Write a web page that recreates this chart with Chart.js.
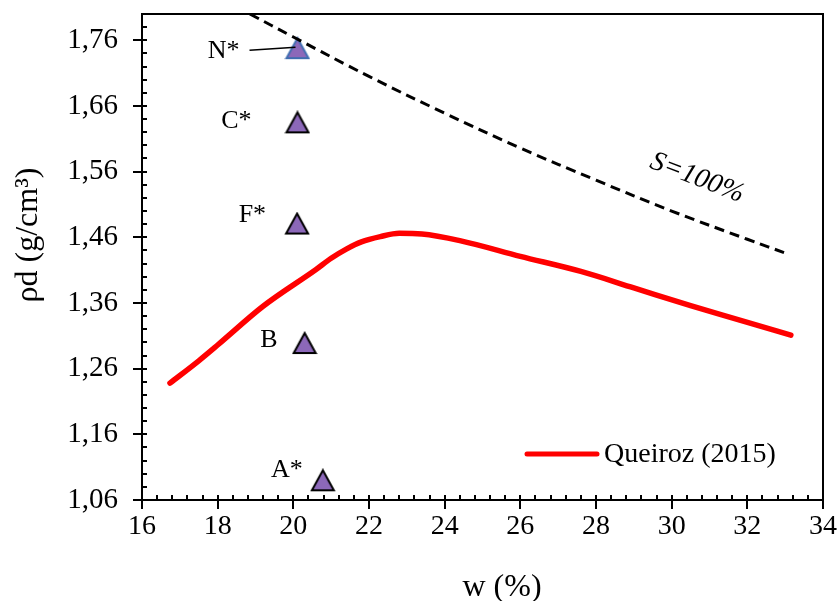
<!DOCTYPE html>
<html>
<head>
<meta charset="utf-8">
<script src="https://cdn.jsdelivr.net/npm/chart.js@4.4.1/dist/chart.umd.min.js"></script>
<style>
  html, body { margin: 0; padding: 0; background: #fff; }
  #wrap { width: 838px; height: 601px; }
</style>
</head>
<body>
<div id="wrap"><canvas id="chart" width="838" height="601"></canvas></div>
<script>
// Queiroz (2015) compaction curve
const queirozW = [16.74, 17.5, 18.0, 19.2, 20.6, 21.0, 21.4, 21.8, 22.3, 22.8, 23.4, 24.4, 26.0, 27.6, 29.0, 30.5, 31.8, 33.15];
const queirozRho = [1.238, 1.272, 1.296, 1.355, 1.411, 1.428, 1.442, 1.453, 1.461, 1.466, 1.465, 1.455, 1.431, 1.408, 1.383, 1.356, 1.334, 1.311];

// saturation curve S=100%
const satW = [18.85, 20, 22, 24, 26, 28, 30, 32, 33.1];
const satRho = [1.800, 1.765, 1.705, 1.649, 1.596, 1.547, 1.500, 1.457, 1.434];

// soil samples
const sampleNames = ['N*', 'C*', 'F*', 'B', 'A*'];
const sampleW = [20.11, 20.11, 20.10, 20.30, 20.78];
const sampleRho = [1.748, 1.635, 1.481, 1.299, 1.090];

// axes
const xTicks = [16, 18, 20, 22, 24, 26, 28, 30, 32, 34];
const yTicks = [1.06, 1.16, 1.26, 1.36, 1.46, 1.56, 1.66, 1.76];

const FONT = "'Liberation Serif', 'Times New Roman', serif";

function triangleMarker(stroke) {
    const c = document.createElement('canvas');
    c.width = 26; c.height = 24;
    const g = c.getContext('2d');
    g.beginPath();
    g.moveTo(13, 2);
    g.lineTo(24, 22);
    g.lineTo(2, 22);
    g.closePath();
    g.fillStyle = '#8c68b9';
    g.fill();
    g.lineWidth = 2;
    g.strokeStyle = stroke;
    g.stroke();
    return c;
}
const markerStyles = sampleNames.map((n, i) => triangleMarker(i === 0 ? '#3f6db0' : '#000000'));

// label offsets from the marker (px)
const labelOffsets = [[-58, 3], [-46, -1], [-31, -8], [-27, -3], [-20, -10]];

const decorations = {
    id: 'decorations',
    afterDatasetsDraw(chart) {
        const ctx = chart.ctx;
        const area = chart.chartArea;
        const xs = chart.scales.x, ys = chart.scales.y;
        ctx.save();

        // frame
        ctx.strokeStyle = '#000';
        ctx.lineWidth = 2;
        ctx.strokeRect(area.left, area.top, area.right - area.left, area.bottom - area.top);

        // y ticks: major cross, minor inside
        ctx.beginPath();
        for (let v = 1.06; v <= 1.801; v += 0.02) {
            const y = Math.round(ys.getPixelForValue(v));
            const major = yTicks.some(t => Math.abs(t - v) < 1e-6);
            ctx.moveTo(area.left - (major ? 9 : 0), y);
            ctx.lineTo(area.left + 5, y);
        }
        // x ticks
        for (let v = 16; v <= 34.001; v += 0.4) {
            const x = Math.round(xs.getPixelForValue(v));
            const major = xTicks.some(t => Math.abs(t - v) < 1e-6);
            ctx.moveTo(x, area.bottom - 5);
            ctx.lineTo(x, area.bottom + (major ? 9 : 0));
        }
        ctx.stroke();

        // sample labels
        const meta = chart.getDatasetMeta(2);
        ctx.fillStyle = '#000';
        ctx.font = '26px ' + FONT;
        ctx.textAlign = 'right';
        ctx.textBaseline = 'middle';
        meta.data.forEach((pt, i) => {
            ctx.fillText(sampleNames[i], pt.x + labelOffsets[i][0], pt.y + labelOffsets[i][1]);
        });
        // leader line for N*
        const n = meta.data[0];
        ctx.lineWidth = 1.5;
        ctx.beginPath();
        ctx.moveTo(n.x - 48, n.y + 2);
        ctx.lineTo(n.x - 2, n.y - 1);
        ctx.stroke();

        // S=100% label
        ctx.save();
        ctx.translate(697, 178);
        ctx.rotate(21 * Math.PI / 180);
        ctx.font = 'italic 28px ' + FONT;
        ctx.textAlign = 'center';
        ctx.fillText('S=100%', 0, 0);
        ctx.restore();

        // legend
        const ds = chart.data.datasets[0];
        ctx.strokeStyle = ds.borderColor;
        ctx.lineWidth = 5;
        ctx.lineCap = 'round';
        ctx.beginPath();
        ctx.moveTo(527, 454);
        ctx.lineTo(597, 454);
        ctx.stroke();
        ctx.font = '28px ' + FONT;
        ctx.textAlign = 'left';
        ctx.fillText(ds.label, 604, 455);

        // axis titles
        ctx.font = '32px ' + FONT;
        ctx.textAlign = 'center';
        ctx.fillText('w (%)', 502, 588);
        ctx.save();
        ctx.translate(29, 235);
        ctx.rotate(-Math.PI / 2);
        ctx.fillText('ρd (g/cm³)', 0, 0);
        ctx.restore();

        ctx.restore();
    }
};

new Chart(document.getElementById('chart'), {
    type: 'scatter',
    data: {
        datasets: [{
            label: 'Queiroz (2015)',
            data: queirozW.map((w, i) => ({ x: w, y: queirozRho[i] })),
            showLine: true,
            borderColor: '#ff0000',
            borderWidth: 5.5,
            borderCapStyle: 'round',
            pointRadius: 0,
            cubicInterpolationMode: 'monotone'
        }, {
            label: 'S=100%',
            data: satW.map((w, i) => ({ x: w, y: satRho[i] })),
            showLine: true,
            borderColor: '#000000',
            borderWidth: 3,
            borderDash: [10, 6],
            pointRadius: 0,
            tension: 0.4
        }, {
            label: 'Amostras',
            data: sampleW.map((w, i) => ({ x: w, y: sampleRho[i] })),
            pointStyle: markerStyles,
            pointRadius: 12
        }]
    },
    options: {
        responsive: false,
        animation: false,
        devicePixelRatio: 1,
        layout: { padding: { top: 14, right: 15, left: 0, bottom: 0 } },
        plugins: { legend: { display: false }, tooltip: { enabled: false } },
        scales: {
            x: {
                type: 'linear',
                min: 16, max: 34,
                afterBuildTicks: (s) => { s.ticks = xTicks.map(v => ({ value: v })); },
                afterFit: (s) => { s.height = 101; s.paddingLeft = 0; s.paddingRight = 0; },
                grid: { display: false, drawTicks: false },
                border: { display: false },
                ticks: { color: '#000', padding: 10, font: { family: FONT, size: 28 }, maxRotation: 0 }
            },
            y: {
                type: 'linear',
                min: 1.06, max: 1.80,
                afterBuildTicks: (s) => { s.ticks = yTicks.map(v => ({ value: v })); },
                afterFit: (s) => { s.width = 142; s.paddingTop = 0; s.paddingBottom = 0; },
                grid: { display: false, drawTicks: false },
                border: { display: false },
                ticks: {
                    color: '#000', padding: 24, font: { family: FONT, size: 29 },
                    callback: (v) => Number(v).toFixed(2).replace('.', ',')
                }
            }
        }
    },
    plugins: [decorations]
});
</script>
</body>
</html>
